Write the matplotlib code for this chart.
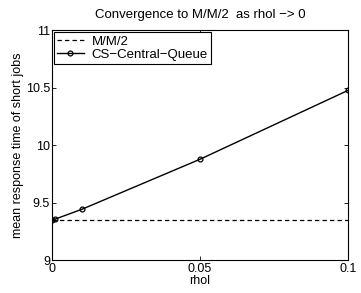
import matplotlib
matplotlib.use("Agg")
import matplotlib.pyplot as plt

# data
rhol = [0.0, 0.001, 0.01, 0.05, 0.1]
cs_central_queue = [9.35, 9.355, 9.44, 9.876, 10.475]
mm2_value = 9.345
x_ticks = [0, 0.05, 0.1]
x_tick_labels = ["0", "0.05", "0.1"]
y_ticks = [9, 9.5, 10, 10.5, 11]
y_tick_labels = ["9", "9.5", "10", "10.5", "11"]

plt.rcParams['font.family'] = ['Liberation Sans', 'DejaVu Sans']

fig = plt.figure(figsize=(3.61, 2.93), dpi=100)
ax = fig.add_axes([0.144, 0.1126, 0.820, 0.785])

ax.plot([rhol[0], rhol[-1]], [mm2_value, mm2_value], 'k--', lw=0.9,
        dashes=(3.5, 2.5), label="M/M/2")
ax.plot(rhol, cs_central_queue, 'k-', lw=1.0, marker='o', ms=3.5,
        mfc='none', mec='k', mew=0.9, label="CS\u2212Central\u2212Queue")

ax.set_xlim(0, 0.1)
ax.set_ylim(9, 11)
ax.set_xticks(x_ticks)
ax.set_xticklabels(x_tick_labels)
ax.set_yticks(y_ticks)
ax.set_yticklabels(y_tick_labels)
ax.tick_params(direction='in', top=True, right=True, length=3, width=0.6,
               labelsize=9, pad=1.5)
ax.tick_params(axis='x', pad=2.5)
for s in ax.spines.values():
    s.set_linewidth(0.8)

ax.set_xlabel("rhol", fontsize=9, labelpad=0)
ax.set_ylabel("mean response time of short jobs", fontsize=9, labelpad=1)
ax.set_title("Convergence to M/M/2  as rhol \u2212> 0", fontsize=9.5, pad=9)

leg = ax.legend(loc='upper left', fontsize=9.5, frameon=True, fancybox=False,
                edgecolor='k', borderaxespad=0.15, handlelength=2.0,
                borderpad=0.25, labelspacing=0.1, handletextpad=0.6)
leg.get_frame().set_linewidth(0.8)
leg.get_frame().set_alpha(1)

fig.savefig("out.png", dpi=100)
